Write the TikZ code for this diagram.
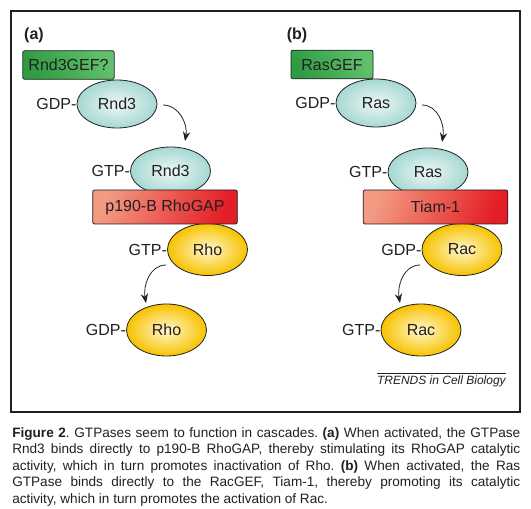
\documentclass[tikz,border=0pt]{standalone}
\usepackage{fontspec}
\setmainfont{Liberation Sans}
\usepackage{xcolor}
\usepackage{tikz}
\usetikzlibrary{shapes.geometric, arrows.meta, positioning}

\definecolor{inkgray}{HTML}{231F20}
\definecolor{gefdark}{HTML}{2F9C42}
\definecolor{geflight}{HTML}{62C06C}
\definecolor{gapsalmon}{HTML}{F39A82}
\definecolor{gapred}{HTML}{E41E26}
\definecolor{cyanin}{HTML}{EDF8F6}
\definecolor{cyanout}{HTML}{A6D8D3}
\definecolor{yelin}{HTML}{FFF7CC}
\definecolor{yelout}{HTML}{F7C200}

\begin{document}
\frenchspacing
\begin{tikzpicture}[x=0.75pt, y=-0.75pt,
    every node/.style={text=inkgray, font=\fontsize{12}{14}\selectfont},
    gefbox/.style={draw=inkgray, line width=0.6pt, rounded corners=1.5pt,
        top color=geflight, bottom color=gefdark, shading angle=-60,
        minimum height=21.5pt, inner sep=0pt},
    gapbox/.style={draw=inkgray, line width=0.6pt, rounded corners=1.5pt,
        top color=gapsalmon, bottom color=gapred, shading angle=70,
        minimum width=108.5pt, minimum height=25.5pt, inner sep=0pt},
    gtpcyan/.style={ellipse, draw=inkgray, line width=0.6pt, shading=radial,
        inner color=cyanin, outer color=cyanout,
        minimum width=60pt, minimum height=36pt, inner sep=0pt},
    gtpyellow/.style={ellipse, draw=inkgray, line width=0.6pt, shading=radial,
        inner color=yelin, outer color=yelout,
        minimum width=60pt, minimum height=39pt, inner sep=0pt},
    nucl/.style={inner sep=0pt},
    panel/.style={font=\bfseries\fontsize{12}{14}\selectfont},
    flip/.style={draw=inkgray, line width=0.6pt, -{Stealth[length=7pt, width=5.5pt]}}]

\useasboundingbox (0,0) rectangle (531,509);
\draw[line width=1.3pt, inkgray] (11,11) rectangle (520,412);

% (a) Rnd3 -> p190-B RhoGAP -> Rho
\node (pa) [panel] at (34,35) {(a)};
\node (rndGDP) [gtpcyan] at (117,104) {Rnd3};
\node (rndGTP) [gtpcyan] at (170.5,171) {Rnd3};
\node (rhoGTP) [gtpyellow] at (207.5,249.5) {Rho};
\node (rhoGDP) [gtpyellow] at (166.5,330) {Rho};
\node (gefA) [gefbox, minimum width=68.5pt] at (68.5,65) {Rnd3GEF?};
\node (gapA) [gapbox] at (165,207) {p190-B RhoGAP};
\node (rndGDPl) [nucl, left=0pt of rndGDP] {GDP-};
\node (rndGTPl) [nucl, left=0pt of rndGTP] {GTP-};
\node (rhoGTPl) [nucl, left=0pt of rhoGTP] {GTP-};
\node (rhoGDPl) [nucl, left=0pt of rhoGDP] {GDP-};
\coordinate (a1s) at (163,105);
\coordinate (a1e) at (185,141);
\coordinate (a2s) at (166,265);
\coordinate (a2e) at (146,303);
\draw[flip] (a1s) to[out=0, in=80] (a1e);
\draw[flip] (a2s) to[out=180, in=100] (a2e);

% (b) Ras -> Tiam-1 -> Rac
\node (pb) [panel] at (297,35) {(b)};
\node (rasGDP) [gtpcyan] at (376,103) {Ras};
\node (rasGTP) [gtpcyan] at (428,172) {Ras};
\node (racGDP) [gtpyellow] at (462,249.5) {Rac};
\node (racGTP) [gtpyellow] at (421,330) {Rac};
\node (gefB) [gefbox, minimum width=61.5pt] at (332,64.5) {RasGEF};
\node (gapB) [gapbox] at (435.5,207) {Tiam-1};
\node (rasGDPl) [nucl, left=0pt of rasGDP] {GDP-};
\node (rasGTPl) [nucl, left=0pt of rasGTP] {GTP-};
\node (racGDPl) [nucl, left=0pt of racGDP] {GDP-};
\node (racGTPl) [nucl, left=0pt of racGTP] {GTP-};
\coordinate (b1s) at (422,105);
\coordinate (b1e) at (442,142);
\coordinate (b2s) at (420,265);
\coordinate (b2e) at (400,303);
\draw[flip] (b1s) to[out=0, in=80] (b1e);
\draw[flip] (b2s) to[out=180, in=100] (b2e);

\node (trends) [anchor=north east, inner sep=0pt, inner ysep=2pt,
    font=\itshape\fontsize{9}{11}\selectfont] at (506,373) {TRENDS in Cell Biology};
\draw[line width=0.5pt, inkgray] (trends.north west) -- (trends.north east);

\node (caption) [anchor=north west, inner sep=0pt, text width=381pt, align=justify,
    font=\fontsize{10.2}{12.4}\selectfont] at (12,427)
    {\textbf{Figure 2}. GTPases seem to function in cascades. \textbf{(a)} When activated, the GTPase\linebreak
    Rnd3 binds directly to p190-B RhoGAP, thereby stimulating its RhoGAP catalytic\linebreak
    activity, which in turn promotes inactivation of Rho. \textbf{(b)} When activated, the Ras\linebreak
    GTPase binds directly to the RacGEF, Tiam-1, thereby promoting its catalytic\linebreak
    activity, which in turn promotes the activation of Rac.};
\end{tikzpicture}
\end{document}
